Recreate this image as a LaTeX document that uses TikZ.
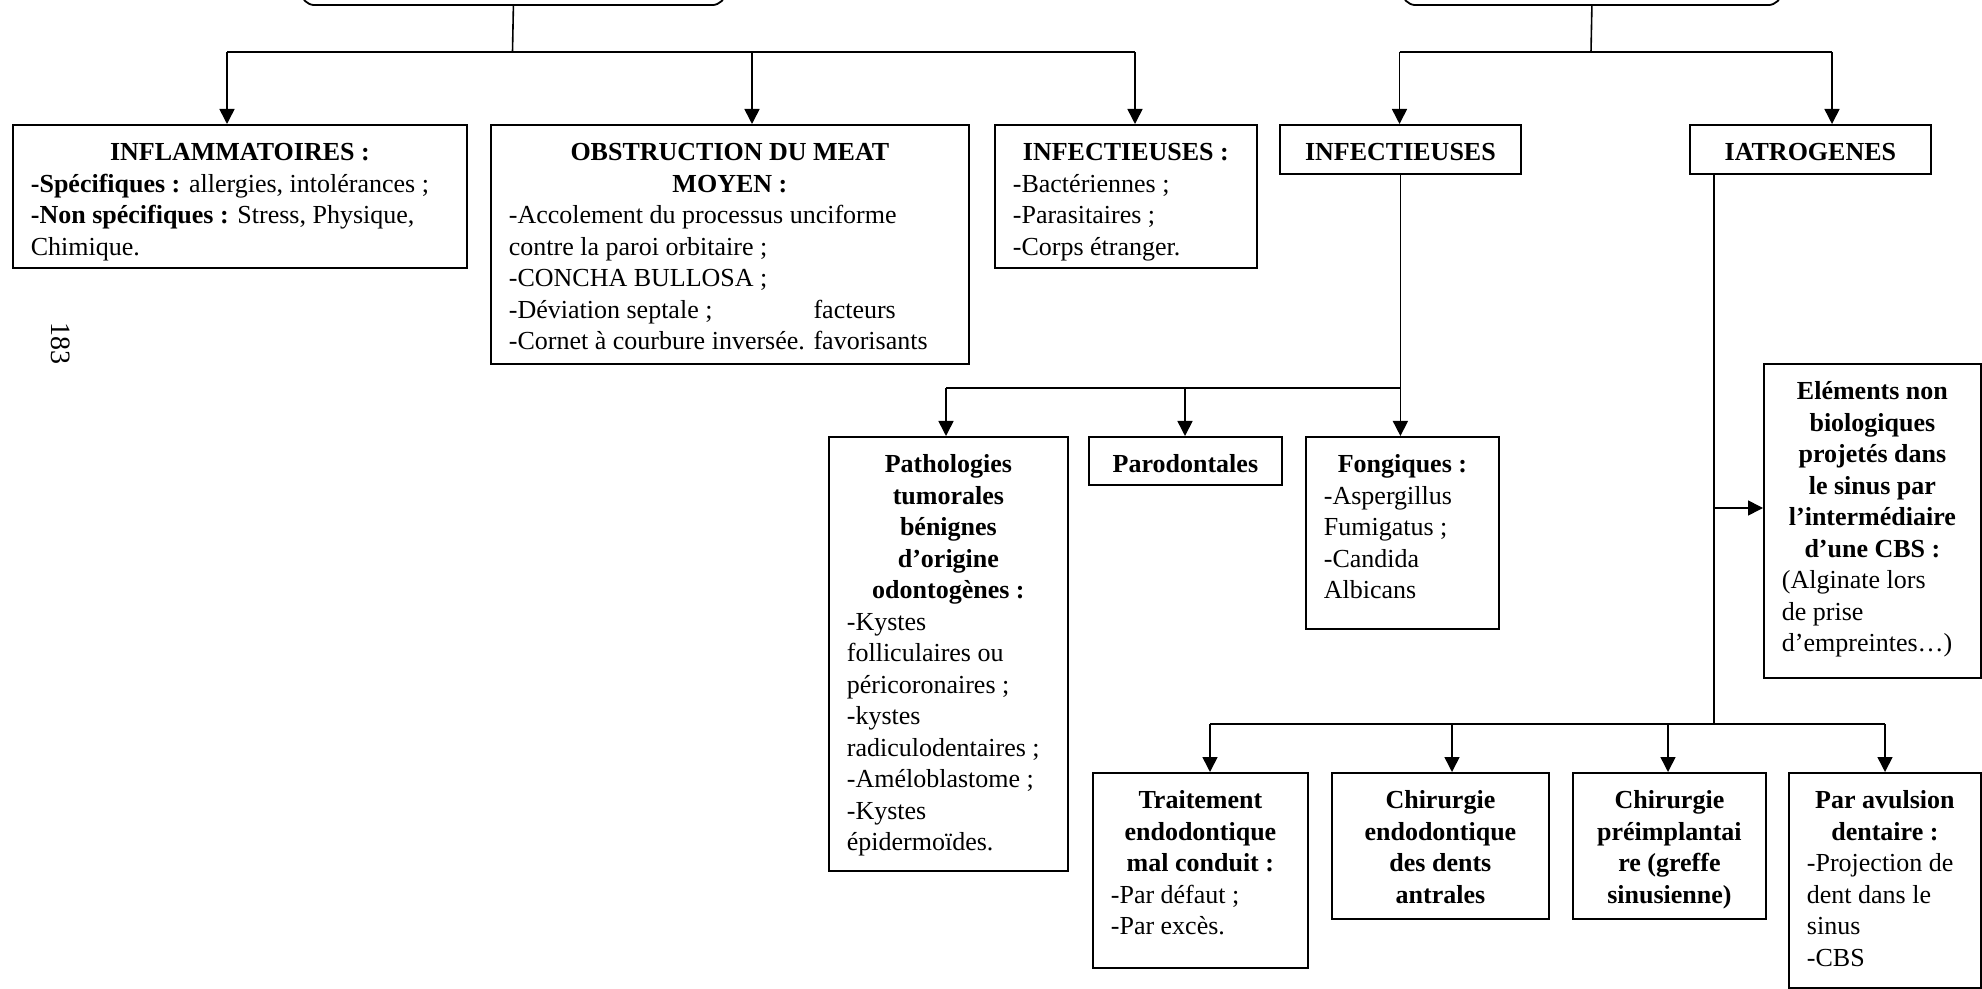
\documentclass[tikz,border=0pt]{standalone}
\usepackage{fontspec}
\setmainfont{Liberation Serif}
\usetikzlibrary{arrows.meta}
\newdimen\pxu \pxu=0.5pt
\tikzset{
  bx/.style={draw, line width=0.9pt, inner xsep=9pt, inner ysep=0pt, anchor=north west,
    font=\fontsize{13pt}{15.75pt}\selectfont},
  ln/.style={line width=0.8pt},
  arr/.style={line width=0.8pt, -{Triangle[length=7.5pt,width=7.5pt]}},
  rootbox/.style={draw, line width=0.9pt, rounded corners=7pt, inner sep=0pt, anchor=south west}
}
% name, x, y, w, h, content
\newcommand\mybx[6]{%
  \node[bx] (#1) at (#2,#3) {\begin{minipage}[t][#5\pxu][t]{\dimexpr#4\pxu-18pt\relax}\raggedright\rule{0pt}{18pt}#6\end{minipage}};}
\begin{document}
\begin{tikzpicture}[x=0.5pt,y=-0.5pt]
\useasboundingbox (0,0) rectangle (1982,989);
\clip (0,0) rectangle (1982,989);
\fill[white] (0,0) rectangle (1982,989);

% root boxes (cut by the top edge)
\node[rootbox, minimum width=212.5pt, minimum height=40pt] (rootL) at (300,6) {};
\node[rootbox, minimum width=190pt, minimum height=40pt] (rootR) at (1401,6) {};

% first row
\mybx{infl}{12}{124}{454}{143}{{\centering\bfseries INFLAMMATOIRES :\par}%
\textbf{-Spécifiques :} allergies, intolérances ;\\
\textbf{-Non spécifiques :} Stress, Physique,\\
Chimique.}
\mybx{obstr}{490}{124}{478}{239}{{\centering\bfseries OBSTRUCTION DU MEAT\\MOYEN :\par}%
-Accolement du processus unciforme\\
contre la paroi orbitaire ;\\
-CONCHA BULLOSA ;\\
\leavevmode\rlap{-Déviation septale ;}\phantom{-Cornet à courbure inversée. }facteurs\\
-Cornet à courbure inversée. favorisants}
\mybx{inf1}{994}{124}{262}{143}{{\centering\bfseries INFECTIEUSES :\par}%
-Bactériennes ;\\
-Parasitaires ;\\
-Corps étranger.}
\mybx{inf2}{1279}{124}{241}{49}{{\centering\bfseries INFECTIEUSES\par}}
\mybx{iatro}{1689}{124}{241}{49}{{\centering\bfseries IATROGENES\par}}

% second row (infectious)
\mybx{patho}{828}{436}{239}{434}{{\centering\bfseries Pathologies\\tumorales\\bénignes\\d’origine\\odontogènes :\par}%
-Kystes\\
folliculaires ou\\
péricoronaires ;\\
-kystes\\
radiculodentaires ;\\
-Améloblastome ;\\
-Kystes\\
épidermoïdes.}
\mybx{paro}{1088}{436}{193}{48}{{\centering\bfseries Parodontales\par}}
\mybx{fong}{1305}{436}{193}{192}{{\centering\bfseries Fongiques :\par}%
-Aspergillus\\
Fumigatus ;\\
-Candida\\
Albicans}

% iatrogenic
\mybx{elem}{1763}{363}{217}{314}{{\centering\bfseries Eléments non\\biologiques\\projetés dans\\le sinus par\\l’intermédiaire\\d’une CBS :\par}%
(Alginate lors\\
de prise\\
d’empreintes…)}
\mybx{trait}{1092}{772}{215}{195}{{\centering\bfseries Traitement\\endodontique\\mal conduit :\par}%
-Par défaut ;\\
-Par excès.}
\mybx{chendo}{1331}{772}{217}{146}{{\centering\bfseries Chirurgie\\endodontique\\des dents\\antrales\par}}
\mybx{chpre}{1572}{772}{193}{146}{{\centering\bfseries Chirurgie\\préimplantai\\re (greffe\\sinusienne)\par}}
\mybx{avul}{1788}{772}{192}{215}{{\centering\bfseries Par avulsion\\dentaire :\par}%
-Projection de\\
dent dans le\\
sinus\\
-CBS}

% page number
\node[rotate=-90, font=\fontsize{14pt}{16pt}\selectfont] (pg) at (61,344) {183};

% connectors left root
\coordinate (jL) at (512.5,52);
\coordinate (bL1) at (227,52);
\coordinate (bL2) at (752,52);
\coordinate (bL3) at (1135,52);
\draw[ln] (rootL.south) -- (jL);
\draw[ln] (bL1) -- (bL3);
\draw[arr] (bL1) -- (bL1 |- infl.north);
\draw[arr] (bL2) -- (bL2 |- obstr.north);
\draw[arr] (bL3) -- (bL3 |- inf1.north);

% connectors right root
\coordinate (jR) at (1591,52);
\coordinate (bR1) at (1399.5,52);
\coordinate (bR2) at (1832,52);
\draw[ln] (rootR.south) -- (jR);
\draw[ln] (bR1) -- (bR2);
\draw[arr] (bR1) -- (bR1 |- inf2.north);
\draw[arr] (bR2) -- (bR2 |- iatro.north);

% infectious branch
\coordinate (bI1) at (946,388);
\coordinate (bI2) at (1185,388);
\coordinate (bI3) at (1399.5,388);
\draw[arr] (inf2.south) -- (inf2.south |- fong.north);
\draw[ln] (bI1) -- (bI3);
\draw[arr] (bI1) -- (bI1 |- patho.north);
\draw[arr] (bI2) -- (bI2 |- paro.north);

% iatrogenic branch
\coordinate (ie) at (1714,508);
\coordinate (ib) at (1714,724);
\coordinate (bB1) at (1210,724);
\coordinate (bB2) at (1452,724);
\coordinate (bB3) at (1668,724);
\coordinate (bB4) at (1885,724);
\draw[ln] (iatro.south -| ib) -- (ib);
\draw[arr] (ie) -- (ie -| elem.west);
\draw[ln] (bB1) -- (bB4);
\draw[arr] (bB1) -- (bB1 |- trait.north);
\draw[arr] (bB2) -- (bB2 |- chendo.north);
\draw[arr] (bB3) -- (bB3 |- chpre.north);
\draw[arr] (bB4) -- (bB4 |- avul.north);
\end{tikzpicture}
\end{document}
